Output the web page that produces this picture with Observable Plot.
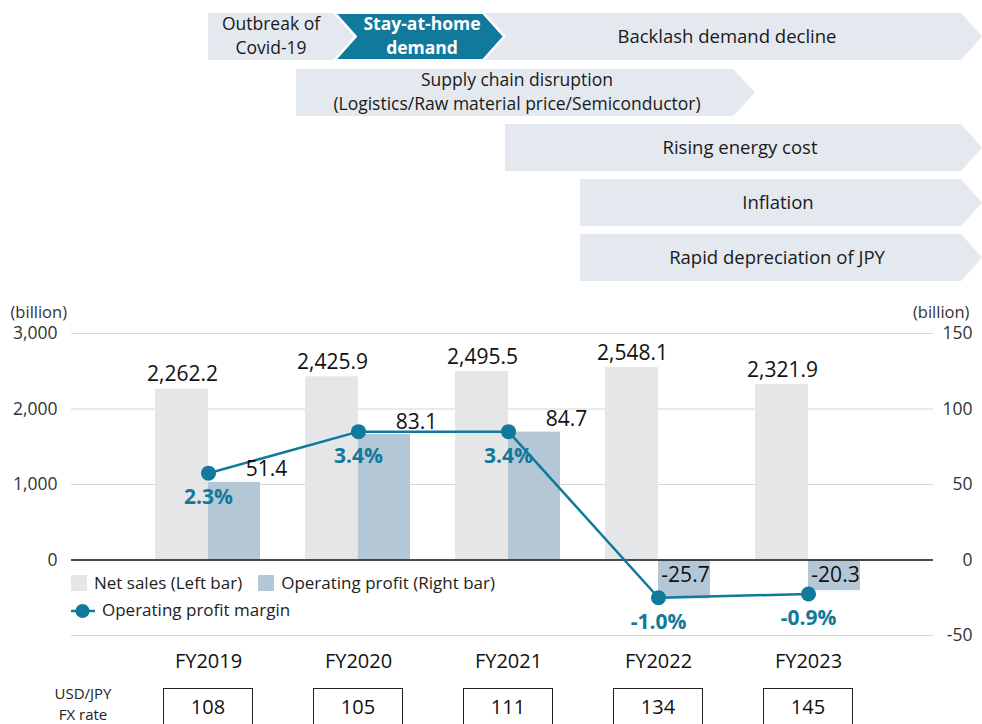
<!DOCTYPE html>
<html>
<head>
<meta charset="utf-8">
<script src="https://cdn.jsdelivr.net/npm/d3@7"></script>
<script src="https://cdn.jsdelivr.net/npm/@observablehq/plot@0.6"></script>
<style>
  html, body { margin: 0; padding: 0; background: #fff; }
  #wrap { position: relative; width: 982px; height: 724px; overflow: hidden; font-family: "Open Sans", "Noto Sans", sans-serif; color: #1a1a1a; }
  #wrap > svg { position: absolute; left: 0; top: 0; }
  .abs { position: absolute; white-space: nowrap; }
  .sw { display: inline-block; width: 16px; height: 16px; vertical-align: -2px; margin-right: 7px; }
  .fxbox { position: absolute; top: 688px; width: 90px; height: 60px; border: 1px solid #222; box-sizing: border-box; text-align: center; font-size: 20px; line-height: 36px; color: #111; }
</style>
</head>
<body>
<div id="wrap"></div>
<script>
// ---------- data ----------
const years = ["FY2019", "FY2020", "FY2021", "FY2022", "FY2023"];
const netSales = [2262.2, 2425.9, 2495.5, 2548.1, 2321.9];      // billion, left axis
const opProfit = [51.4, 83.1, 84.7, -25.7, -20.3];              // billion, right axis
const opMargin = [2.3, 3.4, 3.4, -1.0, -0.9];                   // %
const fxRates = [108, 105, 111, 134, 145];                      // USD/JPY
const leftTicks = [0, 1000, 2000, 3000];
const rightTicks = [-50, 0, 50, 100, 150];
const phaseLabels = [
  ["Outbreak of", "Covid-19"],
  ["Stay-at-home", "demand"],
  ["Backlash demand decline"],
  ["Supply chain disruption", "(Logistics/Raw material price/Semiconductor)"],
  ["Rising energy cost"],
  ["Inflation"],
  ["Rapid depreciation of JPY"]
];
const legendLabels = ["Net sales (Left bar)", "Operating profit (Right bar)", "Operating profit margin"];

// ---------- styling ----------
const TEAL = "#10799c";
const SALES = "#e5e6e8";
const OP = "#b4c7d7";
const BANNER = "#e4e8ef";
const RIGHT_PER_LEFT = 20;    // left axis units per right axis unit
const MARGIN_TO_RIGHT = 25;   // margin % drawn on right axis units

const data = years.map((fy, i) => ({
  fy,
  sales: netSales[i],
  op: opProfit[i],
  opL: opProfit[i] * RIGHT_PER_LEFT,
  margin: opMargin[i],
  marginL: opMargin[i] * MARGIN_TO_RIGHT * RIGHT_PER_LEFT
}));

const FONT = '"Open Sans", "Noto Sans", sans-serif';

const chart = Plot.plot({
  width: 982,
  height: 724,
  marginTop: 333,
  marginBottom: 89,
  marginLeft: 71,
  marginRight: 49,
  style: { fontFamily: FONT, fontSize: "17px", color: "#222", background: "transparent" },
  x: { domain: years, range: [132, 883], padding: 0 },
  y: { domain: [-1000, 3000] },
  marks: [
    Plot.gridY([-1000, 1000, 2000, 3000], { stroke: "#d6d6d6", strokeOpacity: 1, strokeWidth: 1 }),
    Plot.barY(data, { x: "fy", y: "sales", fill: SALES, insetLeft: 22, insetRight: 75 }),
    Plot.barY(data, { x: "fy", y: "opL", fill: OP, insetLeft: 75, insetRight: 23 }),
    Plot.ruleY([0], { stroke: "#111", strokeWidth: 1.3 }),
    Plot.axisY(leftTicks, { anchor: "left", tickSize: 0, tickPadding: 14, tickFormat: d3.format(","), fontSize: 17.5, fill: "#333", label: null }),
    Plot.axisY(rightTicks.map(v => v * RIGHT_PER_LEFT), { anchor: "right", tickSize: 0, tickPadding: 39, textAnchor: "end", tickFormat: d => `${d / RIGHT_PER_LEFT}`, fontSize: 17.5, fill: "#333", label: null }),
    Plot.axisX({ tickSize: 0, tickPadding: 18, fontSize: 20, fill: "#111", label: null }),
    Plot.text(["(billion)"], { frameAnchor: "top-left", dx: -61, dy: -16, lineAnchor: "bottom", textAnchor: "start", fontSize: 16.5, fill: "#333" }),
    Plot.text(["(billion)"], { frameAnchor: "top-right", dx: 36, dy: -16, lineAnchor: "bottom", textAnchor: "end", fontSize: 16.5, fill: "#333" }),
    Plot.lineY(data, { x: "fy", y: "marginL", stroke: TEAL, strokeWidth: 2.5 }),
    Plot.dot(data, { x: "fy", y: "marginL", r: 7.5, fill: TEAL, stroke: "none" }),
    Plot.text(data, { x: "fy", y: "sales", text: d => d3.format(",.1f")(d.sales), dx: -26, dy: -8, lineAnchor: "bottom", fontSize: 21, fill: "#111" }),
    Plot.text(data.filter(d => d.op > 0), { x: "fy", y: "opL", text: d => d.op.toFixed(1), dx: 58, dy: -6, lineAnchor: "bottom", fontSize: 21, fill: "#111" }),
    Plot.text(data.filter(d => d.op < 0), { x: "fy", y: 0, text: d => d.op.toFixed(1), dx: 27, dy: 7, lineAnchor: "top", fontSize: 21, fill: "#111" }),
    Plot.text(data, { x: "fy", y: "marginL", text: d => d.margin.toFixed(1) + "%", dy: 16, lineAnchor: "top", fontSize: 21, fontWeight: "bold", fill: TEAL })
  ]
});

const wrap = document.getElementById("wrap");
wrap.appendChild(chart);

// ---------- phase banners (decorative timeline) ----------
const bsvg = d3.create("svg").attr("width", 982).attr("height", 290).attr("viewBox", "0 0 982 290").style("position", "absolute").style("left", 0).style("top", 0);
const banners = [
  { pts: [[208,13],[333,13],[354,36.5],[333,60],[208,60]], fill: BANNER },
  { pts: [[485,13],[961,13],[982,36.5],[961,60],[485,60],[506,36.5]], fill: BANNER },
  { pts: [[335,13],[483,13],[504,36.5],[483,60],[335,60],[356,36.5]], fill: TEAL, stroke: "#fff" },
  { pts: [[296,69],[733,69],[755,92.5],[733,116],[296,116]], fill: BANNER },
  { pts: [[505,124],[961,124],[982,147.5],[961,171],[505,171]], fill: BANNER },
  { pts: [[580,179],[961,179],[982,202.5],[961,226],[580,226]], fill: BANNER },
  { pts: [[580,234],[961,234],[982,257.5],[961,281],[580,281]], fill: BANNER }
];
for (const b of banners) {
  bsvg.append("polygon").attr("points", b.pts.map(p => p.join(",")).join(" "))
    .attr("fill", b.fill).attr("stroke", b.stroke || "none").attr("stroke-width", b.stroke ? 2 : 0);
}
const bannerText = [
  { lines: phaseLabels[0], x: 271, y: 30, color: "#1a1a1a", weight: 400, size: 17.5 },
  { lines: phaseLabels[1], x: 422, y: 30, color: "#fff", weight: 700, size: 17.5 },
  { lines: phaseLabels[2], x: 727, y: 43, color: "#1a1a1a", weight: 400, size: 18.5 },
  { lines: phaseLabels[3], x: 517, y: 86, color: "#1a1a1a", weight: 400, size: 17.5 },
  { lines: phaseLabels[4], x: 740, y: 154, color: "#1a1a1a", weight: 400, size: 18.5 },
  { lines: phaseLabels[5], x: 778, y: 209, color: "#1a1a1a", weight: 400, size: 18.5 },
  { lines: phaseLabels[6], x: 777, y: 264, color: "#1a1a1a", weight: 400, size: 18.5 }
];
for (const t of bannerText) {
  t.lines.forEach((l, i) => {
    bsvg.append("text").attr("x", t.x).attr("y", t.y + i * 24).attr("text-anchor", "middle")
      .attr("font-family", FONT).attr("font-size", t.size).attr("font-weight", t.weight).attr("fill", t.color)
      .text(l);
  });
}
wrap.appendChild(bsvg.node());

// ---------- legend ----------
const leg = document.createElement("div");
leg.className = "abs";
leg.style.left = "71px"; leg.style.top = "571px"; leg.style.fontSize = "17px"; leg.style.lineHeight = "24px"; leg.style.color = "#222";
leg.innerHTML =
  `<div><span class="sw" style="background:${SALES}"></span>${legendLabels[0]}<span class="sw" style="background:${OP};margin-left:16px"></span>${legendLabels[1]}</div>` +
  `<div style="margin-top:3px"><svg width="24" height="16" style="vertical-align:-3px;margin-right:7px"><line x1="0" x2="24" y1="8" y2="8" stroke="${TEAL}" stroke-width="2.5"/><circle cx="11.5" cy="8" r="7" fill="${TEAL}"/></svg>${legendLabels[2]}</div>`;
wrap.appendChild(leg);

// ---------- FX rate row ----------
const xs = chart.scale("x");
const fxLab = document.createElement("div");
fxLab.className = "abs";
fxLab.style.left = "40px"; fxLab.style.top = "683px"; fxLab.style.width = "86px"; fxLab.style.textAlign = "center";
fxLab.style.fontSize = "15px"; fxLab.style.lineHeight = "20.5px"; fxLab.style.color = "#222";
fxLab.innerHTML = "<div>USD/JPY</div><div>FX rate</div>";
wrap.appendChild(fxLab);
years.forEach((fy, i) => {
  const cx = xs.apply(fy) + xs.bandwidth / 2;
  const box = document.createElement("div");
  box.className = "fxbox";
  box.style.left = (cx - 45) + "px";
  box.textContent = fxRates[i];
  wrap.appendChild(box);
});
</script>
</body>
</html>
